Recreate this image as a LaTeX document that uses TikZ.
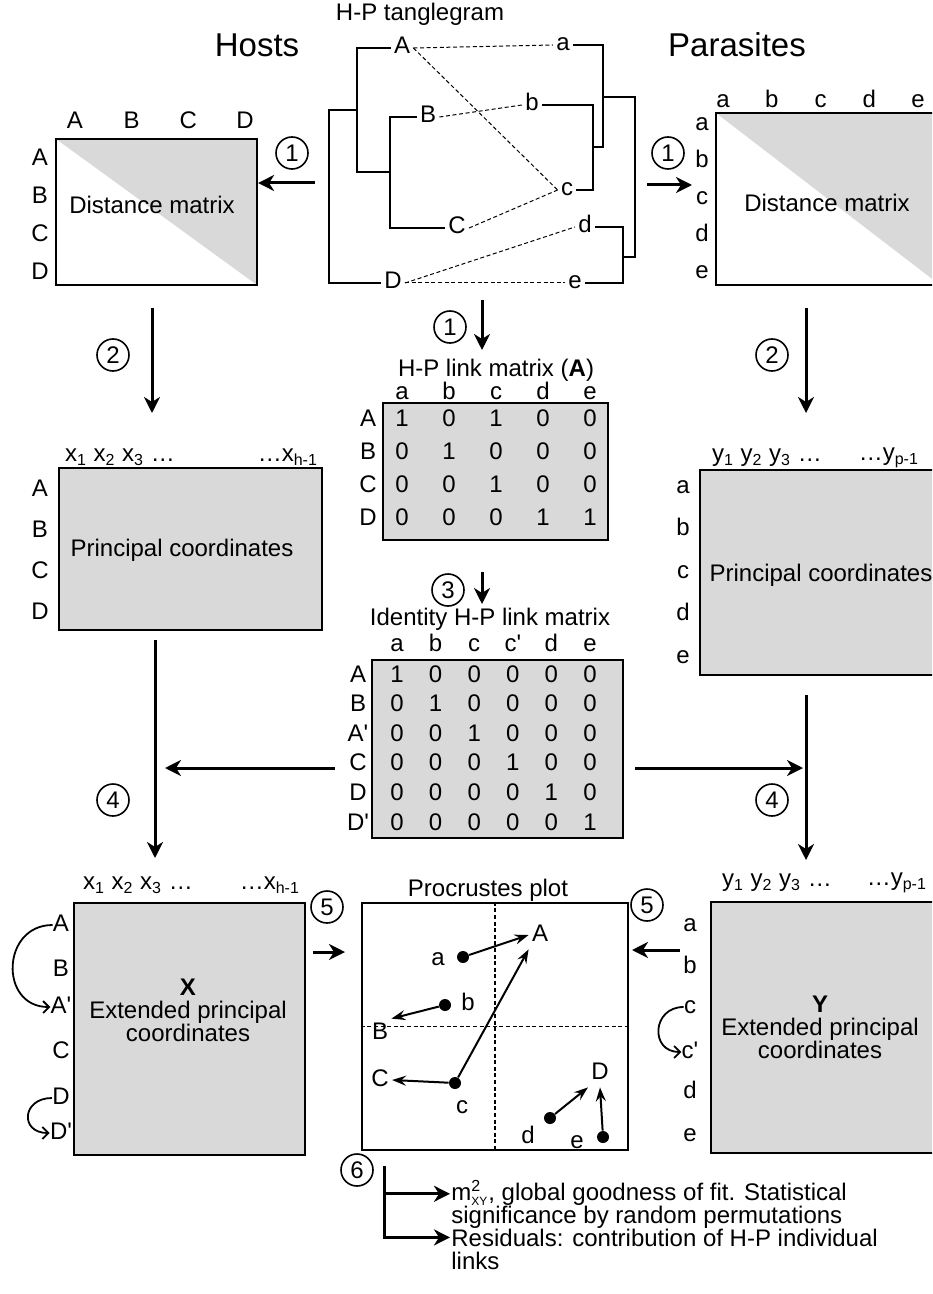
\documentclass[tikz,border=0pt]{standalone}
\usepackage{amsmath}
\usepackage{fontspec}
\setmainfont{Liberation Sans}
\usepackage{tikz}
\usetikzlibrary{arrows.meta}
\usetikzlibrary{fit}
\definecolor{boxgray}{RGB}{217,217,217}
\tikzset{ every node/.style = {font=\fontsize{12}{11.5}\selectfont} }
\tikzset{ cell/.style = {inner sep=0pt, text height=8.5pt, text depth=2.5pt} }
\tikzset{ tree_lab/.style = {cell, inner sep=1.5pt} }
\tikzset{ mat_box/.style = {draw, line width=1.3pt, fill=boxgray, inner sep=0pt} }
\tikzset{ dist_box/.style = {draw, line width=1.1pt, inner sep=0pt,
    path picture={\fill[boxgray] (path picture bounding box.north west) -- (path picture bounding box.north east)
      -- (path picture bounding box.south east) -- cycle;}} }
\tikzset{ step_num/.style = {circle, draw, line width=0.8pt, minimum size=16pt, inner sep=0pt} }
\tikzset{ big_arr/.style = {line width=1.5pt, -{Stealth[length=8pt,width=8pt,inset=2.5pt]}} }
\tikzset{ tree/.style = {line width=1.4pt} }
\tikzset{ link/.style = {line width=0.5pt, dash pattern=on 2pt off 1.3pt} }
\tikzset{ pt_dot/.style = {circle, fill, inner sep=0pt, minimum size=6pt} }
\tikzset{ plot_arr/.style = {line width=1pt, -{Stealth[length=7pt,width=5pt,inset=2.5pt]}} }
\tikzset{ curv_arr/.style = {line width=0.9pt, -{Straight Barb[length=3pt,width=6pt]}} }

\begin{document}
\begin{tikzpicture}[x=0.5pt,y=-0.5pt]
\useasboundingbox (0,0) rectangle (932,1294);
\clip (0,0) rectangle (932,1294);

% titles
\node[font=\fontsize{16.5}{18}\selectfont] (hosts) at (257,45) {Hosts};
\node[font=\fontsize{16.5}{18}\selectfont] (paras) at (737,45) {Parasites};
\node (tangtitle) at (420,14) {H-P tanglegram};

% tanglegram
\node[tree_lab] (hA) at (402,48) {A};
\node[tree_lab] (hB) at (428,117) {B};
\node[tree_lab] (hC) at (457,228) {C};
\node[tree_lab] (hD) at (393,283) {D};
\node[tree_lab] (pa) at (563,45) {a};
\node[tree_lab] (pb) at (532,105) {b};
\node[tree_lab] (pc) at (567,190) {c};
\node[tree_lab] (pd) at (585,227) {d};
\node[tree_lab] (pe) at (575,283) {e};
\draw[tree] (hA.west) -| (357,172) -- (390,172);
\draw[tree] (hB.west) -| (390,228) -- (hC.west);
\draw[tree] (357,110) -| (329,283) -- (hD.west);
\draw[tree] (pa.east) -| (603,147) -- (593,147);
\draw[tree] (pb.east) -| (593,190) -- (pc.east);
\draw[tree] (603,97) -| (635,257) -- (623,257);
\draw[tree] (pd.east) -| (623,283) -- (pe.east);
\draw[link] (hA.east) -- (pa.west);
\draw[link] (hA.east) -- (pc.west);
\draw[link] (hB.east) -- (pb.west);
\draw[link] (hC.east) -- (pc.west);
\draw[link] (hD.east) -- (pd.west);
\draw[link] (hD.east) -- (pe.west);

% distance matrices
\node[dist_box, fit={(56,139) (257,285)}] (hdist) {};
\node at (152,205) {Distance matrix};
\foreach \lab [count=\j] in {A,B,C,D} {
  \node[cell] (hdc\j) at ({75+56.7*(\j-1)},123) {\lab};
  \node[cell] (hdr\j) at (40,{160+37.7*(\j-1)}) {\lab};
}
\node[dist_box, fit={(716,113) (940,285)}] (pdist) {};
\node at (827,203) {Distance matrix};
\foreach \lab [count=\j] in {a,b,c,d,e} {
  \node[cell] (pdc\j) at ({723+48.75*(\j-1)},102) {\lab};
  \node[cell] (pdr\j) at (702,{125+37*(\j-1)}) {\lab};
}

% H-P link matrix
\node (linktitle) at (496,370) {H-P link matrix (\textbf{A})};
\node[mat_box, fit={(383,403) (608,540)}] (link) {};
\foreach \lab [count=\j] in {a,b,c,d,e}
  \node[cell] (lc\j) at ({402+47*(\j-1)},393) {\lab};
\foreach \lab/\vals [count=\i] in {A/{1,0,1,0,0},B/{0,1,0,0,0},C/{0,0,1,0,0},D/{0,0,0,1,1}} {
  \node[cell] (lr\i) at (368,{420+33*(\i-1)}) {\lab};
  \foreach \v [count=\j] in \vals
    \node[cell] (l\i\j) at ({402+47*(\j-1)},{420+33*(\i-1)}) {\v};
}

% identity link matrix
\node[inner sep=1pt] (idtitle) at (490,619) {Identity H-P link matrix};
\node[mat_box, fit={(372,660) (623,838)}] (ident) {};
\foreach \lab [count=\j] in {a,b,c,c\textquotesingle,d,e}
  \node[cell] (ic\j) at ({397+38.6*(\j-1)},645) {\lab};
\foreach \lab [count=\i] in {A,B,A\textquotesingle,C,D,D\textquotesingle} {
  \node[cell] (ir\i) at (358,{676+29.6*(\i-1)}) {\lab};
  \foreach \j in {1,...,6}
    \node[cell] (i\i\j) at ({397+38.6*(\j-1)},{676+29.6*(\i-1)}) {\ifnum\i=\j\relax 1\else 0\fi};
}

% principal coordinates
\node[mat_box, fit={(59,468) (322,630)}] (hpc) {};
\node at (182,550) {Principal coordinates};
\node[anchor=west] (hpcx1) at (58,457) {x\textsubscript{1} x\textsubscript{2} x\textsubscript{3} \dots};
\node[anchor=east] (hpcx2) at (325,457) {\dots x\textsubscript{h-1}};
\foreach \lab [count=\i] in {A,B,C,D}
  \node[cell] (hpr\i) at (40,{490+41*(\i-1)}) {\lab};
\node[mat_box, fit={(700,470) (940,675)}] (ppc) {};
\node at (821,575) {Principal coordinates};
\node[anchor=west] (ppcy1) at (705,458) {y\textsubscript{1} y\textsubscript{2} y\textsubscript{3} \dots};
\node[anchor=east] (ppcy2) at (926,458) {\dots y\textsubscript{p-1}};
\foreach \lab [count=\i] in {a,b,c,d,e}
  \node[cell] (ppr\i) at (683,{487+42.5*(\i-1)}) {\lab};

% extended principal coordinates
\node[mat_box, fit={(74,903) (305,1155)}] (xbox) {};
\node[align=center] (xtxt) at (188,1010) {\textbf{X}\\Extended principal\\coordinates};
\node[anchor=west] (xx1) at (76,885) {x\textsubscript{1} x\textsubscript{2} x\textsubscript{3} \dots};
\node[anchor=east] (xx2) at (307,885) {\dots x\textsubscript{h-1}};
\foreach \lab/\y [count=\i] in {A/925,B/970,A\textquotesingle/1007,C/1052,D/1098,D\textquotesingle/1133}
  \node[cell] (xr\i) at (61,\y) {\lab};
\draw[curv_arr] (xr1.west) to[out=180,in=180,looseness=1.6] (xr3.west);
\draw[curv_arr] (xr5.west) to[out=180,in=180,looseness=2.2] (xr6.west);
\node[mat_box, fit={(711,902) (940,1153)}] (ybox) {};
\node[align=center] (ytxt) at (820,1027) {\textbf{Y}\\Extended principal\\coordinates};
\node[anchor=west] (yy1) at (715,883) {y\textsubscript{1} y\textsubscript{2} y\textsubscript{3} \dots};
\node[anchor=east] (yy2) at (934,883) {\dots y\textsubscript{p-1}};
\foreach \lab/\y [count=\i] in {a/925,b/967,c/1007,c\textquotesingle/1052,d/1092,e/1135}
  \node[cell] (yr\i) at (690,\y) {\lab};
\draw[curv_arr] (yr3.west) to[out=180,in=180,looseness=1.8] (yr4.west);

% Procrustes plot
\node (plottitle) at (488,890) {Procrustes plot};
\node[draw, line width=1.3pt, inner sep=0pt, fit={(362,903) (628,1150)}] (plot) {};
\draw[link, line width=0.6pt] (plot.north) -- (plot.south);
\draw[link, line width=0.6pt] (plot.west) -- (plot.east);
\node[pt_dot] (da) at (463,957) {};
\node[pt_dot] (db) at (445,1005) {};
\node[pt_dot] (dc) at (455,1083) {};
\node[pt_dot] (dd) at (550,1118) {};
\node[pt_dot] (de) at (603,1137) {};
\node[cell] (la) at (438,959) {a};
\node[cell] (lb) at (468,1004) {b};
\node[cell] (lc) at (462,1107) {c};
\node[cell] (ld) at (528,1137) {d};
\node[cell] (le) at (577,1142) {e};
\node[tree_lab] (lA) at (540,935) {A};
\node[tree_lab] (lB) at (380,1033) {B};
\node[tree_lab] (lC) at (380,1080) {C};
\node[tree_lab] (lD) at (600,1073) {D};
\draw[plot_arr] (da) -- (lA.west);
\draw[plot_arr] (dc) -- (lA.south west);
\draw[plot_arr] (db) -- (lB.north east);
\draw[plot_arr] (dc) -- (lC.east);
\draw[plot_arr] (dd) -- (lD.south west);
\draw[plot_arr] (de) -- (lD.south);

% numbered steps
\node[step_num] (st1L) at (292,153) {1};
\node[step_num] (st1R) at (668,153) {1};
\node[step_num] (st1C) at (450,327) {1};
\node[step_num] (st2L) at (113,355) {2};
\node[step_num] (st2R) at (772,355) {2};
\node[step_num] (st3) at (448,590) {3};
\node[step_num] (st4L) at (113,800) {4};
\node[step_num] (st4R) at (772,800) {4};
\node[step_num] (st5L) at (327,907) {5};
\node[step_num] (st5R) at (647,905) {5};
\node[step_num] (st6) at (357,1170) {6};

% flow arrows
\coordinate (a1L) at (315,183);
\coordinate (a1R) at (647,185);
\coordinate (a1C) at (482,300);
\coordinate (a2L) at (152,308);
\coordinate (a2R) at (806,308);
\coordinate (a3) at (482,572);
\coordinate (a4L) at (155,640);
\coordinate (a4Lh) at (335,768);
\coordinate (a4R) at (806,695);
\coordinate (a4Rh) at (635,768);
\coordinate (a5L) at (313,952);
\coordinate (a5R) at (680,950);
\draw[big_arr] (a1L) -- (a1L -| hdist.east);
\draw[big_arr] (a1R) -- ++(45,0);
\draw[big_arr] (a1C) -- ++(0,50);
\draw[big_arr] (a2L) -- ++(0,105);
\draw[big_arr] (a2R) -- ++(0,105);
\draw[big_arr] (a3) -- ++(0,32);
\draw[big_arr] (a4L) -- ++(0,218);
\draw[big_arr] (a4Lh) -- ++(-170,0);
\draw[big_arr] (a4R) -- ++(0,165);
\draw[big_arr] (a4Rh) -- ++(168,0);
\draw[big_arr] (a5L) -- ++(32,0);
\draw[big_arr] (a5R) -- ++(-48,0);

% results
\node[anchor=base west, inner sep=0.5pt] (res1a) at (450,1200) {m\smash{$^{\text{2}}_{\text{\fontsize{6}{6}\selectfont XY}}$}, global goodness of fit. Statistical};
\node[anchor=base west, inner sep=0.5pt] (res1b) at (450,1223) {significance by random permutations};
\node[anchor=base west, inner sep=0.5pt] (res2a) at (450,1246) {Residuals: contribution of H-P individual};
\node[anchor=base west, inner sep=0.5pt] (res2b) at (450,1269) {links};
\coordinate (brtop) at (384,1166);
\draw[big_arr] (brtop) |- (res2a.west);
\draw[big_arr] (brtop |- res1a.west) -- (res1a.west);
\end{tikzpicture}
\end{document}
